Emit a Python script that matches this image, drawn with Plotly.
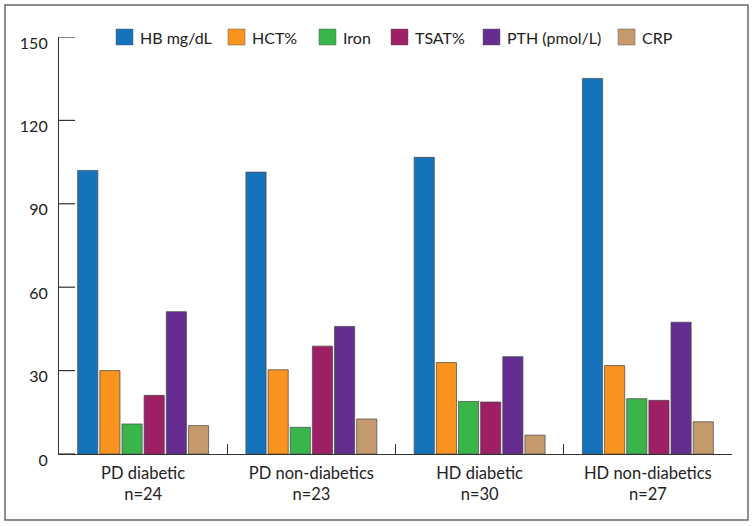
import plotly.graph_objects as go

categories = ["PD diabetic<br>n=24", "PD non-diabetics<br>n=23", "HD diabetic<br>n=30", "HD non-diabetics<br>n=27"]
series_names = ["HB mg/dL", "HCT%", "Iron", "TSAT%", "PTH (pmol/L)", "CRP"]
hb = [102, 101.4, 106.7, 135.1]
hct = [30, 30.3, 32.9, 31.8]
iron = [10.8, 9.6, 18.9, 19.9]
tsat = [21.1, 38.8, 18.7, 19.3]
pth = [51.2, 45.9, 35.0, 47.4]
crp = [10.2, 12.6, 6.8, 11.6]
y_ticks = [0, 30, 60, 90, 120, 150]

colors = ["#1573BC", "#F7931E", "#39B54A", "#9E1F63", "#662D91", "#C49A6C"]
values = [hb, hct, iron, tsat, pth, crp]

FONT = "Lato"
W, H = 754, 526
ML, MR, MT, MB = 59, 22, 37, 72
PW = W - ML - MR
PH = H - MT - MB
Y_TICKLEN = 16


def px_x(px):
    return (px - ML) / PW


def px_y(py):
    return (H - MB - py) / PH


fig = go.Figure()
for name, vals, col in zip(series_names, values, colors):
    fig.add_trace(go.Bar(
        x=categories, y=vals, name=name, showlegend=False,
        marker=dict(color=col, line=dict(color="rgba(70,70,70,0.7)", width=1)),
    ))

shapes = []
annotations = []

# inward y tick marks, placed on the y scale at each tick value
for tv in y_ticks:
    shapes.append(dict(type="line", xref="paper", yref="y",
                       x0=0, x1=Y_TICKLEN / PW, y0=tv, y1=tv,
                       line=dict(color="#333", width=1.2), layer="above"))

# custom legend (large square swatches as in the reference)
legend_left = [116, 228, 319, 391, 483, 618]
for name, col, lx in zip(series_names, colors, legend_left):
    shapes.append(dict(type="rect", xref="paper", yref="paper",
                       x0=px_x(lx), x1=px_x(lx + 17), y0=px_y(45), y1=px_y(29),
                       fillcolor=col, line=dict(color="rgba(90,90,90,0.6)", width=0.8),
                       layer="above"))
    annotations.append(dict(text=name, xref="paper", yref="paper",
                            x=px_x(lx + 22), y=px_y(37), xanchor="left", yanchor="middle",
                            showarrow=False, font=dict(family=FONT, size=16, color="#222")))

# outer frame
shapes.append(dict(type="rect", xref="paper", yref="paper",
                   x0=px_x(5), x1=px_x(748), y0=px_y(520), y1=px_y(5),
                   line=dict(color="#6a6a6a", width=1.5), fillcolor="rgba(0,0,0,0)",
                   layer="above"))

fig.update_layout(
    width=W, height=H,
    margin=dict(l=ML, r=MR, t=MT, b=MB, autoexpand=False),
    paper_bgcolor="white", plot_bgcolor="white",
    barmode="group", bargap=0.21, bargroupgap=0.09,
    font=dict(family=FONT, size=16, color="#222"),
    showlegend=False,
    xaxis=dict(
        type="category", showline=True, linecolor="#333", linewidth=1.2,
        ticks="inside", ticklen=10, tickcolor="#333", tickwidth=1.2,
        tickson="boundaries", showgrid=False, zeroline=False,
        tickfont=dict(family=FONT, size=16.5, color="#222"), ticklabelstandoff=4,
        range=[-0.5, 3.5], fixedrange=True, automargin=False,
    ),
    yaxis=dict(
        range=[0, 150], tickvals=y_ticks, showline=True, linecolor="#333", linewidth=1.2,
        ticks="", showgrid=False, zeroline=False, ticklabelstandoff=7, ticklabelshift=6,
        tickfont=dict(family=FONT, size=16, color="#222"), fixedrange=True, automargin=False,
    ),
    shapes=shapes,
    annotations=annotations,
)

fig.write_html("out.html", config={"displayModeBar": False},
               post_script="document.body.style.margin='0px';document.body.style.padding='0px';")
